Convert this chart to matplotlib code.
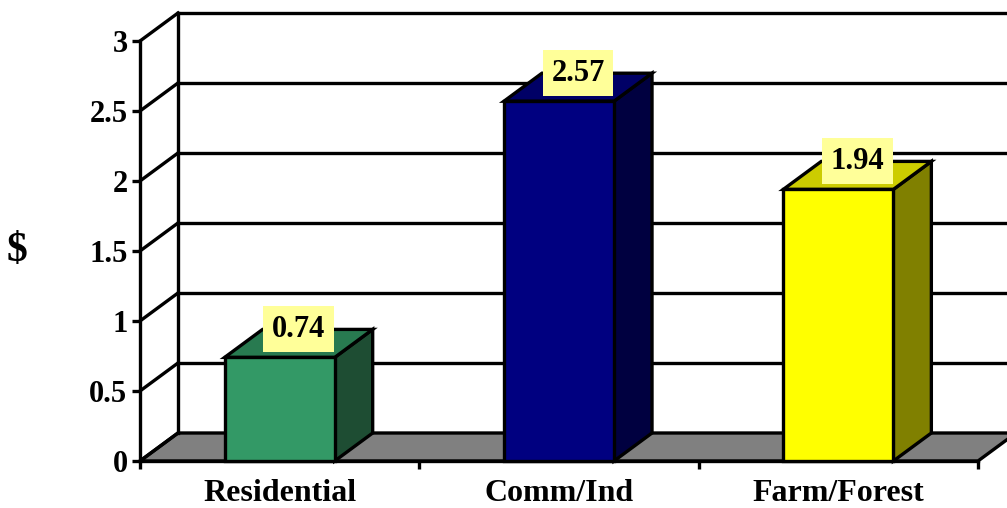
import matplotlib.pyplot as plt
from matplotlib.patches import Polygon

# cost per dollar of revenue, by land use
categories = ['Residential', 'Comm/Ind', 'Farm/Forest']
values = [0.74, 2.57, 1.94]
yticks = [0, 0.5, 1, 1.5, 2, 2.5, 3]

front_colors = ['#339966', '#000080', '#FFFF00']
top_colors = ['#287A50', '#000066', '#CCCC00']
side_colors = ['#1E4D33', '#000040', '#808000']

plt.rcParams['font.family'] = ['Liberation Serif', 'DejaVu Serif']
plt.rcParams['font.weight'] = 'bold'

fig = plt.figure(figsize=(10.07, 5.08), dpi=100)
ax = fig.add_axes([140 / 1007, 47 / 508, 838 / 1007, 420 / 508])
ax.set_xlim(0, 3)
ax.set_ylim(0, 3)
ax.patch.set_visible(False)

# depth of the fake 3d box, in data units
DX = 0.136
DY = 0.2
LW = 2.4

# floor
ax.add_patch(Polygon([(0, 0), (3, 0), (3 + DX, DY), (DX, DY)], closed=True,
                     fc='#808080', ec='black', lw=LW, clip_on=False, zorder=1))

# back wall and side wall grid
ax.plot([DX, DX], [DY, 3 + DY], color='black', lw=LW, clip_on=False, zorder=1)
for y in yticks:
    ax.plot([0, DX], [y, y + DY], color='black', lw=LW, clip_on=False, zorder=1)
    if y > 0:
        ax.plot([DX, 3 + DX], [y + DY, y + DY], color='black', lw=LW,
                clip_on=False, zorder=1)

width = 0.394
centers = [i + 0.5 for i in range(len(categories))]
for c, v, fc, tc, sc in zip(centers, values, front_colors, top_colors, side_colors):
    x0, x1 = c - width / 2, c + width / 2
    side = [(x1, 0), (x1 + DX, DY), (x1 + DX, v + DY), (x1, v)]
    top = [(x0, v), (x1, v), (x1 + DX, v + DY), (x0 + DX, v + DY)]
    front = [(x0, 0), (x1, 0), (x1, v), (x0, v)]
    for pts, col in [(side, sc), (top, tc), (front, fc)]:
        ax.add_patch(Polygon(pts, closed=True, fc=col, ec='black', lw=LW,
                             clip_on=False, zorder=3, joinstyle='miter'))
    ax.text(c + DX / 2, v + DY, f'{v:.2f}', ha='center', va='center',
            fontsize=22, fontweight='bold', zorder=5,
            bbox=dict(boxstyle='square,pad=0.28', fc='#FFFF99', ec='none'))

# front axes
for s in ['top', 'right']:
    ax.spines[s].set_visible(False)
for s in ['left', 'bottom']:
    ax.spines[s].set_linewidth(LW)
    ax.spines[s].set_zorder(2)

ax.set_yticks(yticks, labels=[f'{t:g}' for t in yticks])
ax.tick_params(axis='y', direction='out', length=6, width=LW, pad=3,
               labelsize=22)
ax.set_xticks(centers, labels=categories)
ax.set_xticks([0, 1, 2, 3], minor=True)
ax.tick_params(axis='x', which='major', length=0, pad=13, labelsize=23)
ax.tick_params(axis='x', which='minor', direction='out', length=6, width=LW)
for lab in ax.get_xticklabels() + ax.get_yticklabels():
    lab.set_fontweight('bold')

ax.set_ylabel(r'\$', rotation=0, fontsize=30, fontweight='bold',
              labelpad=52, va='center')

fig.savefig('out.png', dpi=100)
